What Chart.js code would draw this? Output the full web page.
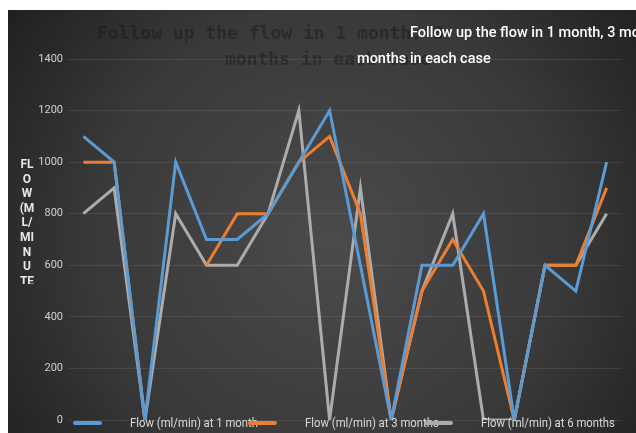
<!DOCTYPE html>
<html>
<head>
<meta charset="utf-8">
<script src="https://cdn.jsdelivr.net/npm/chart.js@4"></script>
<style>
    html, body { margin: 0; padding: 0; background: #fff; }
    #wrap { width: 636px; height: 433px; }
</style>
</head>
<body>
<div id="wrap"><canvas id="flow_chart"></canvas></div>
<script>
const categories = ['1', '2', '3', '4', '5', '6', '7', '8', '9', '10', '11', '12', '13', '14', '15', '16', '17', '18'];
const flowOneMonth = [1100, 1000, 0, 1000, 700, 700, 800, 1000, 1200, 600, 0, 600, 600, 800, 0, 600, 500, 1000];
const flowThreeMonths = [1000, 1000, 0, null, 600, 800, 800, 1000, 1100, 800, 0, 500, 700, 500, 0, 600, 600, 900];
const flowSixMonths = [800, 900, 0, 800, 600, 600, 800, 1200, 0, 900, 0, 500, 800, 0, 0, 600, 600, 800];
const yTicks = [0, 200, 400, 600, 800, 1000, 1200, 1400];

const yTitleLines = ['FL', 'O', 'W', '(M', 'L/', 'MI', 'N', 'U', 'TE'];

// dark backdrop with the white margin strip on top / left
const backdrop = {
    id: 'backdrop',
    beforeDraw(chart) {
        const ctx = chart.ctx;
        ctx.save();
        ctx.fillStyle = '#ffffff';
        ctx.fillRect(0, 0, chart.width, chart.height);
        const g = ctx.createRadialGradient(330, 240, 10, 330, 240, 420);
        g.addColorStop(0, '#4a4a4a');
        g.addColorStop(0.55, '#393939');
        g.addColorStop(1, '#1c1c1c');
        ctx.fillStyle = g;
        ctx.fillRect(8, 10, chart.width - 8, chart.height - 10);
        ctx.restore();
    }
};

// titles, axis title and legend drawn like the original export
const decorations = {
    id: 'decorations',
    beforeDatasetsDraw(chart) {
        const ctx = chart.ctx;
        ctx.save();
        // faint dark title behind
        ctx.fillStyle = 'rgba(22,22,22,0.45)';
        ctx.font = 'bold 18px "DejaVu Sans Mono"';
        ctx.textBaseline = 'middle';
        ctx.textAlign = 'left';
        ctx.fillText('Follow up the flow in 1 month, 3', 97, 34);
        ctx.fillText('months in each case', 225, 60);
        ctx.restore();
    },
    afterDraw(chart) {
        const ctx = chart.ctx;
        ctx.save();
        // white title overlay
        ctx.fillStyle = '#ffffff';
        ctx.font = '500 14.5px Roboto';
        ctx.textBaseline = 'middle';
        ctx.textAlign = 'left';
        ctx.fillText('Follow up the flow in 1 month, 3 months in each case', 410, 33);
        ctx.fillText('months in each case', 357, 59);

        // stacked y axis title, cut off at the bottom
        ctx.save();
        ctx.beginPath();
        ctx.rect(0, 150, 60, 134);
        ctx.clip();
        ctx.fillStyle = '#e6e6e6';
        ctx.font = 'bold 12px Roboto';
        ctx.textAlign = 'center';
        yTitleLines.forEach((line, i) => {
            ctx.fillText(line, 27, 165 + i * 14.6);
        });
        ctx.restore();

        // legend (condensed text, markers painted over the text)
        const items = chart.data.datasets;
        const startX = [73, 248, 424];
        ctx.font = '13px Roboto';
        ctx.fillStyle = '#dadada';
        items.forEach((ds, i) => {
            ctx.save();
            ctx.translate(startX[i] + 57, 424);
            ctx.scale(0.87, 1);
            ctx.fillText(ds.label, 0, 0);
            ctx.restore();
        });
        ctx.lineCap = 'round';
        ctx.lineWidth = 4;
        items.forEach((ds, i) => {
            ctx.strokeStyle = ds.borderColor;
            ctx.beginPath();
            ctx.moveTo(startX[i] + 2, 423);
            ctx.lineTo(startX[i] + 27, 423);
            ctx.stroke();
        });
        ctx.restore();
    }
};

const ctx = document.getElementById('flow_chart').getContext('2d');

new Chart(ctx, {
    type: 'line',
    data: {
        labels: categories,
        datasets: [
            {
                label: 'Flow (ml/min) at 1 month',
                data: flowOneMonth,
                borderColor: '#5b9bd5',
                backgroundColor: '#5b9bd5',
            },
            {
                label: 'Flow (ml/min) at 3 months',
                data: flowThreeMonths,
                borderColor: '#ed7d31',
                backgroundColor: '#ed7d31',
            },
            {
                label: 'Flow (ml/min) at 6 months',
                data: flowSixMonths,
                borderColor: '#acacac',
                backgroundColor: '#acacac',
            },
        ],
    },
    options: {
        responsive: true,
        maintainAspectRatio: false,
        animation: false,
        devicePixelRatio: 1,
        spanGaps: false,
        elements: {
            line: { borderWidth: 3, tension: 0, fill: false },
            point: { radius: 0, hoverRadius: 0 },
        },
        layout: {
            padding: { left: 0, right: 14, top: 59, bottom: 13 },
        },
        plugins: {
            legend: { display: false },
            title: { display: false },
            tooltip: { enabled: false },
        },
        scales: {
            x: {
                display: false,
                offset: true,
            },
            y: {
                min: 0,
                max: 1400,
                afterBuildTicks(scale) {
                    scale.ticks = yTicks.map(v => ({ value: v }));
                },
                afterFit(scale) {
                    scale.width = 68;
                },
                border: { display: false },
                grid: {
                    color: 'rgba(255,255,255,0.09)',
                    drawTicks: false,
                },
                ticks: {
                    color: '#d0d0d0',
                    padding: 5,
                    font: { family: 'Roboto', size: 11 },
                    callback: function (value) {
                        return String(value);
                    },
                },
            },
        },
    },
    plugins: [backdrop, decorations],
});
</script>
</body>
</html>
